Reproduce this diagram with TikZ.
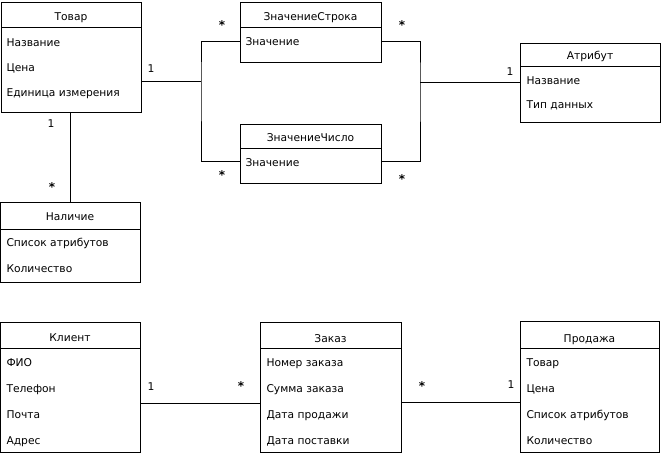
\documentclass[tikz,border=0pt]{standalone}
\usepackage{fontspec}
\setmainfont{DejaVu Sans}
\begin{document}
\begin{tikzpicture}[x=1pt,y=-1pt,
  line width=1pt,
  cls/.style={draw, anchor=north west, inner sep=0pt, minimum width=#1},
  cls/.default=140pt,
  title/.style={anchor=base, inner sep=0pt, font=\fontsize{10.7}{12}\selectfont},
  field/.style={anchor=base west, inner sep=0pt, font=\fontsize{10.7}{12}\selectfont},
  mult/.style={anchor=center, inner sep=0pt, font=\fontsize{10.7}{12}\selectfont},
  star/.style={anchor=center, inner sep=0pt, font=\fontsize{12}{12}\selectfont\bfseries},
  link/.style={draw, line width=1pt}]
\useasboundingbox[fill=white] (0,0) rectangle (661,457);

% ---------- Товар ----------
\node[cls, minimum height=110pt] (tovar) at (1,2) {};
\draw ([yshift=-26pt]tovar.north west) -- ([yshift=-26pt]tovar.north east);
\node[title] (tovarT) at (71,21) {Товар};
\node[field] (tovarA) at (6,47) {Название};
\node[field] (tovarB) at (6,72) {Цена};
\node[field] (tovarC) at (6,97) {Единица измерения};

% ---------- ЗначениеСтрока ----------
\node[cls=141pt, minimum height=60pt] (sstr) at (240,2) {};
\draw ([yshift=-26pt]sstr.north west) -- ([yshift=-26pt]sstr.north east);
\node[title] (sstrT) at (310.5,21) {ЗначениеСтрока};
\node[field] (sstrA) at (245,46) {Значение};

% ---------- ЗначениеЧисло ----------
\node[cls=141pt, minimum height=59pt] (snum) at (240,124) {};
\draw ([yshift=-25pt]snum.north west) -- ([yshift=-25pt]snum.north east);
\node[title] (snumT) at (310.5,142) {ЗначениеЧисло};
\node[field] (snumA) at (245,167) {Значение};

% ---------- Атрибут ----------
\node[cls, minimum height=79pt] (attr) at (520,43) {};
\draw ([yshift=-24pt]attr.north west) -- ([yshift=-24pt]attr.north east);
\node[title] (attrT) at (590,60) {Атрибут};
\node[field] (attrA) at (526,85) {Название};
\node[field] (attrB) at (526,109) {Тип данных};

% ---------- Наличие ----------
\node[cls, minimum height=80pt] (nal) at (0,202) {};
\draw ([yshift=-27pt]nal.north west) -- ([yshift=-27pt]nal.north east);
\node[title] (nalT) at (70,221) {Наличие};
\node[field] (nalA) at (6,246) {Список атрибутов};
\node[field] (nalB) at (6,272) {Количество};

% ---------- Клиент ----------
\node[cls, minimum height=130pt] (kl) at (0,322) {};
\draw ([yshift=-26pt]kl.north west) -- ([yshift=-26pt]kl.north east);
\node[title] (klT) at (70,341) {Клиент};
\node[field] (klA) at (6,366) {ФИО};
\node[field] (klB) at (6,392) {Телефон};
\node[field] (klC) at (6,418) {Почта};
\node[field] (klD) at (6,444) {Адрес};

% ---------- Заказ ----------
\node[cls=141pt, minimum height=130pt] (zak) at (260,322) {};
\draw ([yshift=-26pt]zak.north west) -- ([yshift=-26pt]zak.north east);
\node[title] (zakT) at (330.5,342) {Заказ};
\node[field] (zakA) at (266,366) {Номер заказа};
\node[field] (zakB) at (266,392) {Сумма заказа};
\node[field] (zakC) at (266,418) {Дата продажи};
\node[field] (zakD) at (266,444) {Дата поставки};

% ---------- Продажа ----------
\node[cls=139pt, minimum height=131pt] (prod) at (520,321) {};
\draw ([yshift=-27pt]prod.north west) -- ([yshift=-27pt]prod.north east);
\node[title] (prodT) at (589.5,342) {Продажа};
\node[field] (prodA) at (526,366) {Товар};
\node[field] (prodB) at (526,392) {Цена};
\node[field] (prodC) at (526,418) {Список атрибутов};
\node[field] (prodD) at (526,444) {Количество};

% ---------- connectors ----------
\coordinate (lj) at (201,82);
\coordinate (rj) at (420,83);
\draw[link] (tovar.east |- lj) -- (lj);
\draw[link] (sstr.west |- 0,42) -| (lj) |- (snum.west |- 0,162);
\draw[link] (sstr.east |- 0,42) -| (rj) |- (snum.east |- 0,162);
\draw[link] (rj) -- (attr.west |- rj);
\draw[link] (tovar.south -| 70,0) -- (nal.north -| 70,0);
\draw[link] (kl.east |- 0,403) -- (zak.west |- 0,403);
\draw[link] (zak.east |- 0,402) -- (prod.west |- 0,402);

% ---------- multiplicities ----------
\node[mult] (m1) at (151,69) {1};
\node[star] (m2) at (222,25) {*};
\node[star] (m3) at (402,25) {*};
\node[star] (m4) at (222,175) {*};
\node[star] (m5) at (402,179) {*};
\node[mult] (m6) at (510,72) {1};
\node[mult] (m7) at (51,124) {1};
\node[star] (m8) at (52,187) {*};
\node[mult] (m9) at (151,387) {1};
\node[star] (m10) at (241,386) {*};
\node[star] (m11) at (422,386) {*};
\node[mult] (m12) at (511,385) {1};
\end{tikzpicture}
\end{document}
